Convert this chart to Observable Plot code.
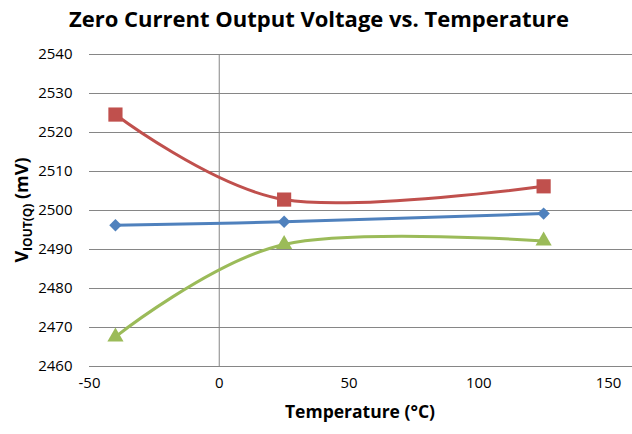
<!DOCTYPE html>
<html>
<head>
<meta charset="utf-8">
<script src="https://cdn.jsdelivr.net/npm/d3@7"></script>
<script src="https://cdn.jsdelivr.net/npm/@observablehq/plot@0.6"></script>
<style>
  html, body { margin: 0; padding: 0; background: #fff; }
  #title { height: 38px; line-height: 36px; text-align: center; font-family: "Open Sans", sans-serif; font-weight: bold; font-size: 22px; color: #000; padding-left: 6px; }
  #chart svg { display: block; }
</style>
</head>
<body>
<div id="title">Zero Current Output Voltage vs. Temperature</div>
<div id="chart"></div>
<script>
const temperatures = [-40, 25, 125];
const seriesNames = ["High", "Typical", "Low"];
const redValues = [2524.6, 2502.8, 2506.2];
const blueValues = [2496.2, 2497.1, 2499.2];
const greenValues = [2467.6, 2491.3, 2492.2];
const xTicks = [-50, 0, 50, 100, 150];
const yTicks = [2460, 2470, 2480, 2490, 2500, 2510, 2520, 2530, 2540];

const colors = ["#C0504D", "#4F81BD", "#9BBB59"];
const symbols = ["square", "diamond2", "triangle"];
const radii = [8, 5.6, 6];
const allValues = [redValues, blueValues, greenValues];

const data = [];
allValues.forEach((vals, s) => {
  vals.forEach((v, i) => data.push({series: seriesNames[s], t: temperatures[i], v}));
});

const font = "'Open Sans', sans-serif";
const fmt = d => String(d);
const plot = Plot.plot({
  width: 632,
  height: 396,
  marginLeft: 89,
  marginRight: 0,
  marginTop: 16,
  marginBottom: 68,
  style: {fontFamily: font, fontSize: "15px", color: "#000", background: "#fff"},
  x: {domain: [-50, 159.25], ticks: xTicks, label: null},
  y: {domain: [2460, 2540], ticks: yTicks, label: null},
  marks: [
    Plot.gridY(yTicks, {stroke: "#868686", strokeOpacity: 1, strokeWidth: 1}),
    Plot.ruleX([0], {stroke: "#868686", strokeWidth: 1}),
    Plot.axisX(xTicks, {tickSize: 0, tickPadding: 11, fontSize: 15, fill: "#000", tickFormat: fmt}),
    Plot.axisY(yTicks, {tickSize: 0, tickPadding: 17, fontSize: 15, fill: "#000", tickFormat: fmt}),
    ...seriesNames.map((name, s) =>
      Plot.line(data.filter(d => d.series === name), {x: "t", y: "v", stroke: colors[s], strokeWidth: 3, curve: "cardinal", tension: 0})
    ),
    ...seriesNames.map((name, s) =>
      Plot.dot(data.filter(d => d.series === name), {x: "t", y: "v", fill: colors[s], stroke: "none", symbol: symbols[s], r: radii[s]})
    )
  ]
});
document.getElementById("chart").appendChild(plot);

const svg = d3.select(plot);
svg.append("text")
  .attr("x", 360).attr("y", 380)
  .attr("text-anchor", "middle")
  .attr("font-family", font).attr("font-weight", "bold").attr("font-size", 17.5)
  .attr("fill", "#000")
  .text("Temperature (°C)");

const yl = svg.append("text")
  .attr("transform", "translate(28,172) rotate(-90)")
  .attr("text-anchor", "middle")
  .attr("font-family", font).attr("font-weight", "bold").attr("font-size", 18)
  .attr("fill", "#000");
yl.append("tspan").text("V");
yl.append("tspan").attr("font-size", 12).attr("dy", 4).text("IOUT(Q)");
yl.append("tspan").attr("dy", -4).text(" (mV)");
</script>
</body>
</html>
